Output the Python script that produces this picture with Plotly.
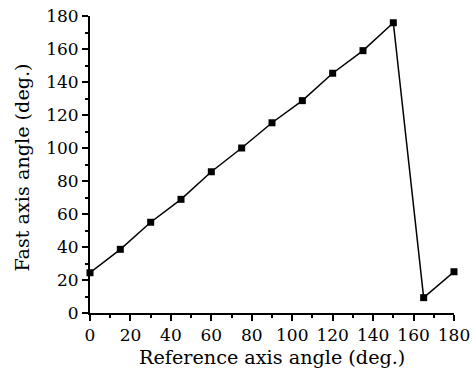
import plotly.graph_objects as go

ref_angle = [0, 15, 30, 45, 60, 75, 90, 105, 120, 135, 150, 165, 180]
fast_angle = [24.4, 38.6, 55.0, 68.9, 85.6, 100.0, 115.3, 128.7, 145.3, 159.0, 175.9, 9.3, 25.0]
tick_vals = [0, 20, 40, 60, 80, 100, 120, 140, 160, 180]
x_title = "Reference axis angle (deg.)"
y_title = "Fast axis angle (deg.)"

font_family = "DejaVu Serif"
tick_size = 17
title_size = 19.2

fig = go.Figure()
fig.add_trace(go.Scatter(
    x=ref_angle, y=fast_angle, mode="lines+markers",
    line=dict(color="black", width=1.5),
    marker=dict(symbol="square", size=7, color="black"),
    cliponaxis=False, showlegend=False,
))

axis_common = dict(
    showgrid=False, zeroline=False, showline=True, linecolor="black", linewidth=2,
    ticks="outside", ticklen=6, tickwidth=1.5, tickcolor="black",
    tickvals=tick_vals, ticktext=[str(v) for v in tick_vals],
    minor=dict(ticks="outside", ticklen=3, tickwidth=1.5, tickcolor="black", dtick=10),
    tickfont=dict(family=font_family, size=tick_size, color="black"),
    ticklabeloverflow="allow",
    range=[0, 180], mirror=False, automargin=False,
)

fig.update_layout(
    width=472, height=377,
    margin=dict(l=90, r=18, t=16, b=64),
    paper_bgcolor="white", plot_bgcolor="white",
    xaxis=dict(**axis_common),
    yaxis=dict(**axis_common),
    annotations=[
        dict(text=x_title, xref="paper", yref="paper", x=0.5, y=0,
             xanchor="center", yanchor="middle", yshift=-44, showarrow=False,
             font=dict(family=font_family, size=title_size, color="black")),
        dict(text=y_title, xref="paper", yref="paper", x=0, y=0.5,
             xanchor="center", yanchor="middle", xshift=-68, yshift=-3,
             textangle=-90, showarrow=False,
             font=dict(family=font_family, size=title_size, color="black")),
    ],
)

fig.write_html(
    "out.html",
    config={"displayModeBar": False},
    post_script="document.body.style.margin='0';document.body.style.overflow='hidden';",
)
